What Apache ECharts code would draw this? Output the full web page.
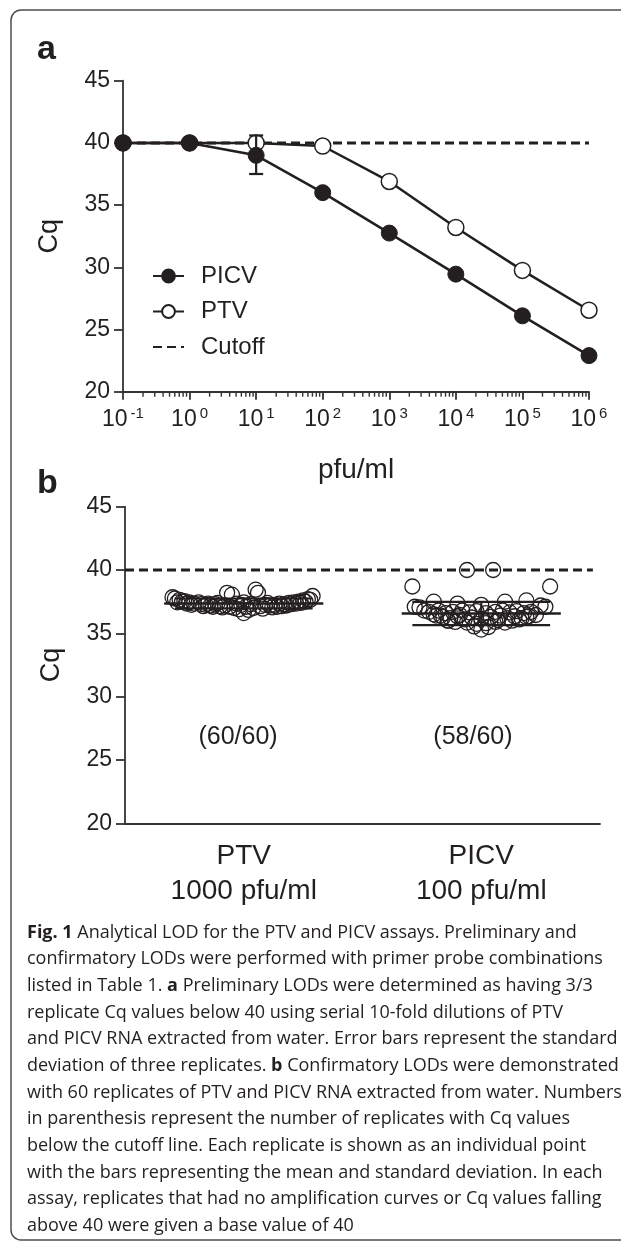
<!DOCTYPE html>
<html>
<head>
<meta charset="utf-8">
<script src="https://cdn.jsdelivr.net/npm/echarts@6/dist/echarts.min.js"></script>
<style>
  html, body { margin: 0; padding: 0; background: #fff; }
  #chart { width: 621px; height: 1242px; }
</style>
</head>
<body>
<div id="chart"></div>
<script>
// panel a: serial dilutions
var concentrations = [0.1, 1, 10, 100, 1000, 10000, 100000, 1000000]
var picvCq = [40, 40, 39.0, 36.0, 32.75, 29.45, 26.1, 22.9]
var ptvCq = [40, 40, 40, 39.75, 36.9, 33.2, 29.75, 26.55]
// [concentration, low, high] of the only visible error bar
var picvErrors = [[10, 37.5, 40.6]]
var cutoff = 40
var xTickExponents = ['-1', '0', '1', '2', '3', '4', '5', '6']

// panel b: 60 replicates each, [horizontal offset in swarm, Cq]
var categories = ['PTV', 'PICV']
var doses = ['1000 pfu/ml', '100 pfu/ml']
var countLabels = ['(60/60)', '(58/60)']
var ptvReplicates = [
  [-0.30, 37.85], [-0.29, 37.75], [-0.27, 37.65], [-0.25, 37.55], [-0.23, 37.45], [-0.28, 37.45],
  [-0.21, 37.35], [-0.18, 37.3], [-0.16, 37.25], [-0.19, 37.45], [-0.14, 37.2], [-0.12, 37.3],
  [-0.10, 37.15], [-0.08, 37.2], [-0.06, 37.1], [-0.09, 37.05], [-0.11, 37.4], [-0.07, 38.2],
  [-0.05, 38.05], [-0.04, 37.0], [-0.02, 36.9], [0.0, 36.6], [0.02, 36.85], [-0.01, 37.25],
  [0.01, 37.1], [0.03, 37.3], [0.05, 38.45], [0.06, 38.2], [0.04, 37.0], [0.07, 37.15],
  [0.09, 37.25], [0.11, 37.2], [0.13, 37.25], [0.15, 37.35], [0.17, 37.3], [0.12, 37.05],
  [0.08, 36.95], [0.10, 37.4], [0.19, 37.4], [0.21, 37.45], [0.23, 37.5], [0.25, 37.6],
  [0.27, 37.7], [0.29, 37.95], [0.22, 37.35], [0.18, 37.2], [0.14, 37.1], [-0.13, 37.1],
  [-0.15, 37.35], [-0.17, 37.15], [-0.03, 37.35], [0.0, 37.45], [0.16, 37.15], [-0.22, 37.25],
  [0.20, 37.3], [0.24, 37.4], [-0.24, 37.35], [-0.26, 37.5], [0.26, 37.5], [0.28, 37.65]
]
var picvReplicates = [
  [-0.06, 40.0], [0.05, 40.0], [-0.29, 38.7], [0.29, 38.7],
  [-0.20, 37.5], [-0.10, 37.35], [0.0, 37.25], [0.10, 37.5], [0.19, 37.6], [-0.28, 37.1],
  [-0.26, 37.05], [0.27, 37.1], [0.25, 37.2],
  [-0.24, 36.8], [-0.22, 36.7], [-0.18, 36.8], [-0.15, 36.6], [-0.12, 36.7], [-0.08, 36.8],
  [-0.05, 36.65], [-0.02, 36.75], [0.02, 36.6], [0.06, 36.7], [0.09, 36.8], [0.12, 36.65],
  [0.15, 36.75], [0.18, 36.6], [0.21, 36.7], [0.23, 36.45], [0.20, 36.35], [-0.20, 36.5],
  [-0.17, 36.4],
  [-0.16, 36.3], [-0.13, 36.2], [-0.10, 36.35], [-0.07, 36.1], [-0.04, 36.25], [0.0, 36.15],
  [0.04, 36.3], [0.07, 36.05], [0.11, 36.2], [0.14, 36.35], [0.17, 36.2], [-0.19, 36.4],
  [0.19, 36.3],
  [-0.11, 35.9], [-0.06, 35.85], [-0.02, 35.75], [0.02, 35.8], [0.06, 35.9], [0.10, 35.85],
  [0.13, 36.0], [-0.14, 36.0],
  [0.0, 35.3], [0.03, 35.5], [-0.03, 35.55],
  [0.08, 36.4], [-0.09, 36.45], [0.16, 36.1], [-0.14, 36.0]
]
// [category index, mean, sd]
var replicateStats = [[0, 37.36, 0.39], [1, 36.57, 0.92]]

var captionLines = [
  '{b|Fig. 1} Analytical LOD for the PTV and PICV assays. Preliminary and',
  'confirmatory LODs were performed with primer probe combinations',
  'listed in Table 1. {b|a} Preliminary LODs were determined as having 3/3',
  'replicate Cq values below 40 using serial 10-fold dilutions of PTV',
  'and PICV RNA extracted from water. Error bars represent the standard',
  'deviation of three replicates. {b|b} Confirmatory LODs were demonstrated',
  'with 60 replicates of PTV and PICV RNA extracted from water. Numbers',
  'in parenthesis represent the number of replicates with Cq values',
  'below the cutoff line. Each replicate is shown as an individual point',
  'with the bars representing the mean and standard deviation. In each',
  'assay, replicates that had no amplification curves or Cq values falling',
  'above 40 were given a base value of 40'
]

var ink = '#231f20'
var font = 'Liberation Sans'

var minorTicks = []
for (var k = -1; k < 6; k++) {
  for (var m = 2; m < 10; m++) minorTicks.push([m * Math.pow(10, k)])
}

function yAxisFor(grid) {
  return {
    type: 'value',
    gridIndex: grid,
    min: 20,
    max: 45,
    interval: 5,
    name: 'Cq',
    nameLocation: 'middle',
    nameGap: 60,
    nameTextStyle: { fontSize: 27, fontFamily: font, color: ink },
    axisLine: { show: true, onZero: false, lineStyle: { color: '#333', width: 1.8 } },
    axisTick: { show: true, length: 9, lineStyle: { color: '#333', width: 1.8 } },
    axisLabel: { fontSize: 23, fontFamily: font, color: ink, margin: 13 },
    splitLine: { show: false }
  }
}

var chart = echarts.init(document.getElementById('chart'), null, { renderer: 'canvas' })

var graphics = [
  {
    type: 'rect',
    shape: { x: 11, y: 10, width: 640, height: 1230, r: 10 },
    style: { fill: 'none', stroke: '#4d4d4d', lineWidth: 1.5 }
  },
  { type: 'text', x: 37, y: 50, style: { text: 'a', font: 'bold 34px "Liberation Sans"', fill: ink, verticalAlign: 'middle' } },
  { type: 'text', x: 37, y: 484, style: { text: 'b', font: 'bold 34px "Liberation Sans"', fill: ink, verticalAlign: 'middle' } }
]
captionLines.forEach(function (line, i) {
  graphics.push({
    type: 'text',
    x: 27,
    y: 932.7 + i * 26.65,
    style: {
      text: line,
      font: '18px "Open Sans"',
      fill: ink,
      verticalAlign: 'middle',
      rich: { b: { fontWeight: 'bold', fontSize: 18, fontFamily: 'Open Sans', fill: ink } }
    }
  })
})

chart.setOption({
  animation: false,
  backgroundColor: '#fff',
  graphic: graphics,
  grid: [
    { left: 123, right: 32, top: 80.7, height: 311 },
    { left: 125, right: 21, top: 506.7, height: 316.6 }
  ],
  legend: {
    data: ['PICV', 'PTV', { name: 'Cutoff', itemStyle: { opacity: 0 } }],
    orient: 'vertical',
    left: 147,
    top: 259,
    itemWidth: 31,
    itemHeight: 16,
    itemGap: 11.5,
    textStyle: { fontSize: 24, fontFamily: font, color: ink, padding: [0, 0, 0, 12] },
    selectedMode: false
  },
  xAxis: [
    {
      type: 'log',
      gridIndex: 0,
      min: 0.1,
      max: 1000000,
      splitNumber: 7,
      name: 'pfu/ml',
      nameLocation: 'middle',
      nameGap: 65,
      nameTextStyle: { fontSize: 28, fontFamily: font, color: ink },
      axisLine: { lineStyle: { color: '#333', width: 1.8 } },
      axisTick: { length: 8, lineStyle: { color: '#333', width: 1.8 } },
      axisLabel: {
        margin: 15,
        formatter: function (value, index) {
          return '{b|10}{s|' + xTickExponents[index] + '}'
        },
        rich: {
          b: { fontSize: 23, fontFamily: font, color: ink, lineHeight: 26 },
          s: { fontSize: 15, fontFamily: font, color: ink, lineHeight: 15, verticalAlign: 'top', padding: [0, 0, 0, 3] }
        }
      },
      splitLine: { show: false }
    },
    {
      type: 'category',
      gridIndex: 1,
      data: categories.map(function (c, i) { return c + '\n' + doses[i] }),
      axisLine: { lineStyle: { color: '#333', width: 1.8 } },
      axisTick: { alignWithLabel: true, length: 8, lineStyle: { color: '#333', width: 1.8 } },
      axisLabel: { fontSize: 28, lineHeight: 35, fontFamily: font, color: ink, margin: 15 }
    },
    { type: 'value', gridIndex: 1, min: -0.5, max: 1.5, show: false }
  ],
  yAxis: [yAxisFor(0), yAxisFor(1)],
  series: [
    {
      name: 'Cutoff',
      type: 'line',
      xAxisIndex: 0,
      yAxisIndex: 0,
      data: [[concentrations[0], cutoff], [concentrations[concentrations.length - 1], cutoff]],
      symbol: 'none',
      itemStyle: { color: ink },
      lineStyle: { color: ink, width: 3, type: [9, 5] },
      z: 1
    },
    {
      name: 'PTV',
      type: 'line',
      xAxisIndex: 0,
      yAxisIndex: 0,
      data: concentrations.map(function (c, i) { return [c, ptvCq[i]] }),
      symbol: 'circle',
      symbolSize: 16,
      lineStyle: { color: ink, width: 2.5 },
      itemStyle: { color: '#fff', borderColor: ink, borderWidth: 1.5 },
      z: 2
    },
    {
      name: 'PICV',
      type: 'line',
      xAxisIndex: 0,
      yAxisIndex: 0,
      data: concentrations.map(function (c, i) { return [c, picvCq[i]] }),
      symbol: 'circle',
      symbolSize: 16,
      lineStyle: { color: ink, width: 2.5 },
      itemStyle: { color: ink, borderColor: ink, borderWidth: 1 },
      z: 3
    },
    {
      type: 'custom',
      xAxisIndex: 0,
      yAxisIndex: 0,
      data: picvErrors,
      z: 4,
      renderItem: function (params, api) {
        var lo = api.coord([api.value(0), api.value(1)])
        var hi = api.coord([api.value(0), api.value(2)])
        var st = { stroke: ink, lineWidth: 2.2 }
        return {
          type: 'group',
          children: [
            { type: 'line', shape: { x1: lo[0], y1: lo[1], x2: hi[0], y2: hi[1] }, style: st },
            { type: 'line', shape: { x1: lo[0] - 7, y1: lo[1], x2: lo[0] + 7, y2: lo[1] }, style: st },
            { type: 'line', shape: { x1: hi[0] - 7, y1: hi[1], x2: hi[0] + 7, y2: hi[1] }, style: st }
          ]
        }
      }
    },
    {
      type: 'custom',
      xAxisIndex: 0,
      yAxisIndex: 0,
      data: minorTicks,
      silent: true,
      renderItem: function (params, api) {
        var p = api.coord([api.value(0), 20])
        return { type: 'line', shape: { x1: p[0], y1: p[1], x2: p[0], y2: p[1] + 5 }, style: { stroke: '#333', lineWidth: 1.4 } }
      }
    },
    {
      name: 'cutoff b',
      type: 'line',
      xAxisIndex: 2,
      yAxisIndex: 1,
      data: [[-0.5, cutoff], [1.47, cutoff]],
      symbol: 'none',
      lineStyle: { color: ink, width: 3, type: [9, 5] },
      z: 1
    },
    {
      name: 'PTV replicates',
      type: 'scatter',
      xAxisIndex: 2,
      yAxisIndex: 1,
      data: ptvReplicates.map(function (p) { return [0 + p[0], p[1]] }),
      symbolSize: 15,
      itemStyle: { color: 'rgba(255,255,255,0)', borderColor: ink, borderWidth: 1.3, opacity: 1 },
      z: 2
    },
    {
      name: 'PICV replicates',
      type: 'scatter',
      xAxisIndex: 2,
      yAxisIndex: 1,
      data: picvReplicates.map(function (p) { return [1 + p[0], p[1]] }),
      symbolSize: 15,
      itemStyle: { color: 'rgba(255,255,255,0)', borderColor: ink, borderWidth: 1.3, opacity: 1 },
      z: 2
    },
    {
      type: 'custom',
      xAxisIndex: 2,
      yAxisIndex: 1,
      data: replicateStats,
      z: 3,
      renderItem: function (params, api) {
        var x = api.value(0)
        var mean = api.value(1)
        var sd = api.value(2)
        var a = api.coord([x - 0.335, mean])
        var b = api.coord([x + 0.335, mean])
        var up = api.coord([x, mean + sd])
        var dn = api.coord([x, mean - sd])
        var capL = api.coord([x - 0.29, mean])[0]
        var capR = api.coord([x + 0.29, mean])[0]
        var st = { stroke: ink, lineWidth: 2.6 }
        var st2 = { stroke: ink, lineWidth: 2.2 }
        return {
          type: 'group',
          children: [
            { type: 'line', shape: { x1: a[0], y1: a[1], x2: b[0], y2: b[1] }, style: st },
            { type: 'line', shape: { x1: up[0], y1: up[1], x2: dn[0], y2: dn[1] }, style: st2 },
            { type: 'line', shape: { x1: capL, y1: up[1], x2: capR, y2: up[1] }, style: st2 },
            { type: 'line', shape: { x1: capL, y1: dn[1], x2: capR, y2: dn[1] }, style: st2 }
          ]
        }
      }
    },
    {
      type: 'scatter',
      xAxisIndex: 2,
      yAxisIndex: 1,
      symbolSize: 0,
      itemStyle: { opacity: 1 },
      data: [
        { value: [-0.024, 26.83], name: countLabels[0] },
        { value: [0.965, 26.83], name: countLabels[1] }
      ],
      label: {
        show: true,
        position: 'inside',
        formatter: '{b}',
        fontSize: 25,
        fontFamily: font,
        color: ink,
        opacity: 1
      },
      silent: true
    }
  ]
})
</script>
</body>
</html>
